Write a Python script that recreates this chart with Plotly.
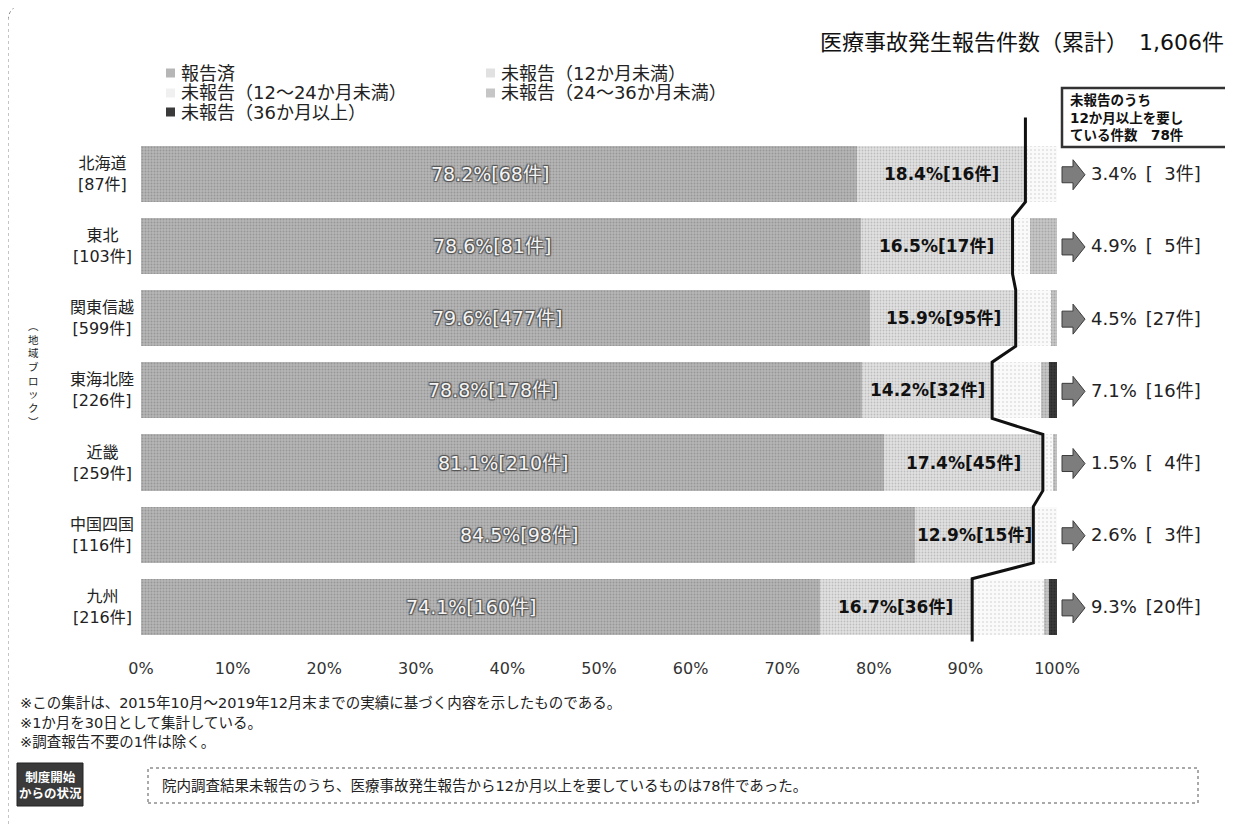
import plotly.graph_objects as go

# ---------------- data ----------------
regions = ["北海道", "東北", "関東信越", "東海北陸", "近畿", "中国四国", "九州"]
totals = [87, 103, 599, 226, 259, 116, 216]
reported = [68, 81, 477, 178, 210, 98, 160]
under12 = [16, 17, 95, 32, 45, 15, 36]
over12 = [3, 5, 27, 16, 4, 3, 20]
m12_24 = [3, 2, 23, 12, 3, 3, 17]
m24_36 = [0, 3, 4, 2, 1, 0, 1]
m36 = [0, 0, 0, 2, 0, 0, 2]
series_names = ["報告済", "未報告（12か月未満）", "未報告（12～24か月未満）",
                "未報告（24～36か月未満）", "未報告（36か月以上）"]
x_ticks = [0, 10, 20, 30, 40, 50, 60, 70, 80, 90, 100]
title_text = "医療事故発生報告件数（累計）　1,606件"
box_text = "未報告のうち<br>12か月以上を要し<br>ている件数　78件"
notes = ["※この集計は、2015年10月～2019年12月末までの実績に基づく内容を示したものである。",
         "※1か月を30日として集計している。",
         "※調査報告不要の1件は除く。"]
summary_text = "院内調査結果未報告のうち、医療事故発生報告から12か月以上を要しているものは78件であった。"
badge_text = "制度開始<br>からの状況"
axis_title_text = "︵<br>地<br>域<br>ブ<br>ロ<br>ッ<br>ク<br>︶"

FONT = "DejaVu Sans, Noto Sans CJK JP, sans-serif"

# ---------------- layout geometry (page pixels, body margin 8px) ----------------
OFF = 8
W, H = 1233 - OFF, 825 - OFF
L = 141 - OFF
T = 116 - OFF
R = W - (1057 - OFF)
B = H - (643 - OFF)
PW, PH = W - L - R, H - T - B
Y_RANGE = [6.5, -0.8]


def px2x(px):
    return (px - OFF - L) / PW


def py2y(py):
    return (H - B - (py - OFF)) / PH


def idx2py(i):
    return OFF + T + (i - Y_RANGE[1]) * PH / (Y_RANGE[0] - Y_RANGE[1])


def pct(vals):
    return [v / t * 100 for v, t in zip(vals, totals)]


styles = [
    dict(bg="#b6b6b6", fg="#777777", size=3, sol=0.35),
    dict(bg="#e1e1e1", fg="#999999", size=3, sol=0.3),
    dict(bg="#fafafa", fg="#c4c4c4", size=4, sol=0.2),
    dict(bg="#c6c6c6", fg="#878787", size=3, sol=0.35),
    dict(bg="#3a3a3a", fg="#1a1a1a", size=3, sol=0.3),
]

series_vals = [pct(reported), pct(under12), pct(m12_24), pct(m24_36), pct(m36)]

fig = go.Figure()
for name, vals, st in zip(series_names, series_vals, styles):
    fig.add_trace(go.Bar(
        y=regions, x=vals, name=name, orientation="h",
        marker=dict(color=st["bg"], line=dict(width=0),
                    pattern=dict(shape=".", bgcolor=st["bg"], fgcolor=st["fg"],
                                 size=st["size"], solidity=st["sol"])),
        showlegend=False, hoverinfo="skip",
    ))

shapes = []
annotations = []


def ann(x, y, text, size, xanchor="center", yanchor="middle", xref="paper", yref="paper",
        color="#222222", align="center", shadow=None):
    f = dict(family=FONT, size=size, color=color)
    if shadow:
        f["shadow"] = shadow
    annotations.append(dict(x=x, y=y, xref=xref, yref=yref, xanchor=xanchor, yanchor=yanchor,
                            showarrow=False, text=text, align=align, font=f))


# wave separator line between <12 and >=12 months
rep_p = pct(reported)
u12_p = pct(under12)
bounds = [a + b for a, b in zip(rep_p, u12_p)]
hh = 0.39
pts = [(bounds[0], -0.78)]
for i, b in enumerate(bounds):
    pts.append((b, i - hh))
    pts.append((b, i + hh))
pts.append((bounds[-1], 6.48))
path = "M " + " L ".join(f"{x:.3f},{y:.3f}" for x, y in pts)
shapes.append(dict(type="path", xref="x", yref="y", path=path,
                   line=dict(color="#111111", width=3), layer="above"))

SH = "1px 1px 1px #555, -1px -1px 1px #555, 1px -1px 1px #555, -1px 1px 1px #555"
for i, r in enumerate(regions):
    ann(rep_p[i] / 2 - 1, r, f"{rep_p[i]:.1f}%[{reported[i]}件]", 19, xref="x", yref="y",
        color="#f4f4f4", shadow=SH)
    ann(rep_p[i] + u12_p[i] / 2, r, f"<b>{u12_p[i]:.1f}%[{under12[i]}件]</b>", 17,
        xref="x", yref="y", color="#111111")
    o_p = over12[i] / totals[i] * 100
    n_str = str(over12[i]).rjust(2, "\u2007")
    ann(px2x(1089), r, f"{o_p:.1f}%\u2002[{n_str}件]", 18, xanchor="left", yref="y")
    ann(px2x(102), r, f"{r}<br>[{totals[i]}件]", 16, yref="y")
    cy = idx2py(i) + 1
    ap = [(1062, cy - 8), (1073, cy - 8), (1073, cy - 15), (1085, cy),
          (1073, cy + 15), (1073, cy + 8), (1062, cy + 8)]
    shapes.append(dict(type="path", xref="paper", yref="paper",
                       path="M " + " L ".join(f"{px2x(a):.5f},{py2y(b):.5f}" for a, b in ap) + " Z",
                       fillcolor="#7d7d7d", line=dict(color="#3c3c3c", width=1)))

# vertical axis title
ann(px2x(33), py2y(374), axis_title_text, 10.5)

# manual legend
leg_pos = [(166, 73), (486, 73), (166, 93), (486, 93), (166, 112)]
for (lx, ly), name, st in zip(leg_pos, series_names, styles):
    shapes.append(dict(type="rect", xref="paper", yref="paper",
                       x0=px2x(lx), x1=px2x(lx + 9), y0=py2y(ly + 4.5), y1=py2y(ly - 4.5),
                       fillcolor=st["bg"] if st["bg"] != "#fafafa" else "#f0f0f0",
                       line=dict(width=0)))
    ann(px2x(lx + 13), py2y(ly), name, 18, xanchor="left")

# title
ann(px2x(1226), py2y(42), title_text, 22, xanchor="right", color="#111111")

# top-right box
shapes.append(dict(type="rect", xref="paper", yref="paper",
                   x0=px2x(1062), x1=px2x(1229), y0=py2y(147), y1=py2y(88),
                   line=dict(color="#333333", width=2.5), fillcolor="white"))
ann(px2x(1068), py2y(117.5), f"<b>{box_text}</b>", 13.5, xanchor="left", align="left",
    color="#111111")

# footnotes
for k, t in enumerate(notes):
    ann(px2x(18), py2y(703 + k * 19.5), t, 14.5, xanchor="left")

# badge + summary box
shapes.append(dict(type="rect", xref="paper", yref="paper",
                   x0=px2x(17), x1=px2x(83), y0=py2y(806), y1=py2y(763),
                   fillcolor="#3a3a3a", line=dict(color="#222222", width=1)))
ann(px2x(50), py2y(785), f"<b>{badge_text}</b>", 12.5, color="#ffffff")
shapes.append(dict(type="rect", xref="paper", yref="paper",
                   x0=px2x(148), x1=px2x(1198), y0=py2y(803), y1=py2y(768),
                   line=dict(color="#555555", width=1, dash="dot")))
ann(px2x(160), py2y(786), summary_text, 14.5, xanchor="left")

# outer frame
frame = (f"M {px2x(8)},{py2y(830)} L {px2x(8)},{py2y(22)} "
         f"Q {px2x(8)},{py2y(5)} {px2x(25)},{py2y(5)} L {px2x(1240)},{py2y(5)}")
shapes.append(dict(type="path", xref="paper", yref="paper", path=frame,
                   line=dict(color="#8a8a8a", width=1, dash="dot")))

fig.update_layout(
    width=W, height=H,
    margin=dict(l=L, r=R, t=T, b=B, autoexpand=False),
    barmode="stack", bargap=0.22,
    plot_bgcolor="white", paper_bgcolor="white",
    font=dict(family=FONT, color="#222222"),
    xaxis=dict(range=[0, 100], tickvals=x_ticks, ticktext=[f"{v}%" for v in x_ticks],
               showgrid=False, zeroline=False, showline=False, ticks="",
               tickfont=dict(family=FONT, size=16, color="#333333"),
               ticklabelstandoff=14, fixedrange=True),
    yaxis=dict(type="category", categoryorder="array", categoryarray=regions,
               range=Y_RANGE, showticklabels=False, showgrid=False,
               zeroline=False, showline=False, ticks="", fixedrange=True),
    shapes=shapes, annotations=annotations,
)

fig.write_html("out.html")
